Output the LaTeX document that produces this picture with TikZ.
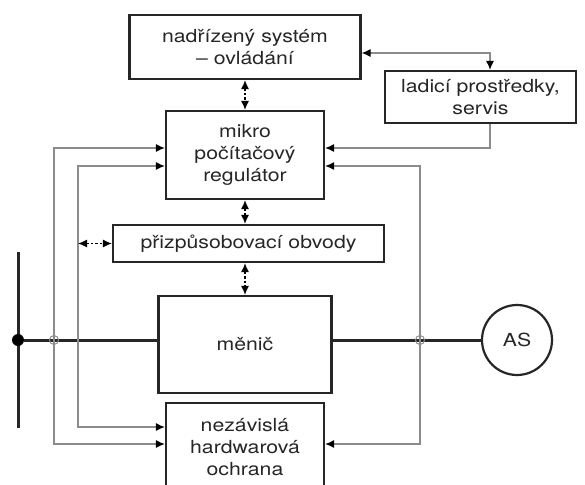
\documentclass[tikz,border=0pt]{standalone}
\usepackage{fontspec}
\setmainfont[FakeStretch=1.18]{TeX Gyre Heros}
\usepackage{tikz}
\usetikzlibrary{positioning,arrows.meta,calc}
\definecolor{linegray}{gray}{0.55}
\definecolor{boxline}{gray}{0.15}

\begin{document}
\begin{tikzpicture}[
  x=1pt, y=-1pt,
  box/.style={draw=boxline, line width=2.2pt, inner sep=0pt, align=center,
              font=\fontsize{18}{22}\selectfont, text=black!85},
  fb/.style={draw=linegray, line width=1.2pt},
  tip/.style={{Latex[length=9pt,width=8pt,color=black]}-{Latex[length=9pt,width=8pt,color=black]}},
  onetip/.style={-{Latex[length=9pt,width=8pt,color=black]}},
  link/.style={tip, black, line width=1.2pt, dash pattern=on 2.5pt off 2pt},
  bus/.style={draw=boxline, line width=3pt},
  tap/.style={circle, draw=linegray, line width=1pt, minimum size=9pt, inner sep=0pt},
  dot/.style={circle, fill=black, minimum size=12pt, inner sep=0pt},
]
\useasboundingbox (0,0) rectangle (585,484);

% blocks
\node[box, minimum width=231pt, minimum height=64pt] (nadr)    at (245,47)
  {nadřízený systém\\ – ovládání};
\node[box, minimum width=191pt, minimum height=52pt] (ladici)  at (480.5,97)
  {ladicí prostředky,\\ servis};
\node[box, minimum width=158pt, minimum height=88pt] (mikro)   at (245,155)
  {mikro\\ počítačový\\ regulátor};
\node[box, minimum width=271pt, minimum height=37pt] (prizp)   at (248.5,243.5)
  {přizpůsobovací obvody};
\node[box, minimum width=173pt, minimum height=97pt] (menic)   at (245,344.5)
  {měnič};
\node[box, minimum width=158pt, minimum height=88pt] (ochrana) at (245,447)
  {nezávislá\\ hardwarová\\ ochrana};
\node[box, circle, minimum size=70pt] (as) at (517,340) {AS};

% corner points of the feedback lines
\coordinate (lo1) at (54,148);  \coordinate (lo2) at (54,444);
\coordinate (li1) at (78,166);  \coordinate (li2) at (78,427);
\coordinate (ro1) at (420,166); \coordinate (ro2) at (420,444);
\coordinate (lad) at (490,148); \coordinate (top) at (490,53);
\coordinate (bartop) at (18,252); \coordinate (barbot) at (18,428);

% power path
\draw[bus] (bartop) -- (barbot);
\node[dot] (junc) at (18,340) {};
\draw[bus] (junc) -- (junc -| menic.west);
\draw[bus] (junc -| menic.east) -- (as.west);

% feedback lines
\draw[fb, tip] (lo1 -| mikro.west) -- (lo1) -- (lo2) -- (lo2 -| ochrana.west);
\draw[fb, tip] (li1 -| mikro.west) -- (li1) -- (li2) -- (li2 -| ochrana.west);
\draw[fb, tip] (ro1 -| mikro.east) -- (ro1) -- (ro2) -- (ro2 -| ochrana.east);
\draw[fb, onetip] (ladici.south -| lad) -- (lad) -- (lad -| mikro.east);
\draw[fb, tip] (top -| nadr.east) -- (top) -- (top |- ladici.north);

\node[tap] (tapl) at (54,340) {};
\node[tap] (tapr) at (420,340) {};

% data links
\draw[link] (nadr.south) -- (mikro.north);
\draw[link] (mikro.south) -- (mikro.south |- prizp.north);
\draw[link] (menic.north |- prizp.south) -- (menic.north);
\draw[link] (prizp.west -| li1) -- (prizp.west);

\end{tikzpicture}
\end{document}
